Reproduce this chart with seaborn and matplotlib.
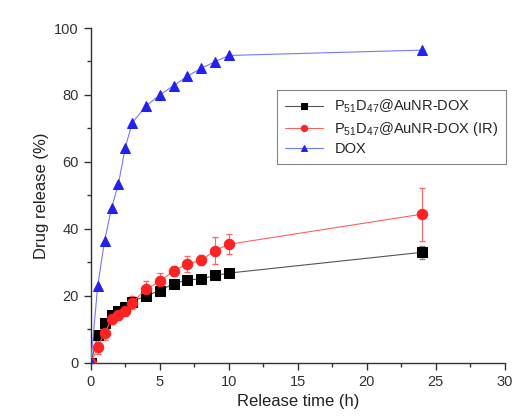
import numpy as np
import pandas as pd
import seaborn as sns
import matplotlib.pyplot as plt
from matplotlib.ticker import MultipleLocator

# release time points (h)
time_dox = [0, 0.5, 1, 1.5, 2, 2.5, 3, 4, 5, 6, 7, 8, 9, 10, 24]
dox = [0, 23, 36.5, 46.2, 53.4, 64.3, 71.7, 76.7, 80, 82.8, 85.6, 88, 89.9, 91.8, 93.4]

time_np = [0, 0.5, 1, 1.5, 2, 2.5, 3, 4, 5, 6, 7, 8, 9, 10, 24]
np_dox = [0, 8.2, 11.8, 14.3, 15.6, 16.6, 18.3, 20, 21.6, 23.6, 24.8, 25, 26.1, 26.8, 33.0]
np_dox_err = [0, 0.8, 0.8, 0.8, 0.8, 0.8, 0.8, 1.0, 0.8, 0.8, 0.8, 0.8, 0.8, 0.8, 2.0]
np_ir = [0, 4.7, 8.9, 13, 14.3, 15.6, 18, 22, 24.3, 27.5, 29.5, 30.7, 33.5, 35.4, 44.4]
np_ir_err = [0, 2, 2, 1.5, 1.5, 1.5, 2, 2.5, 2.5, 1.5, 2.5, 1.5, 4, 3, 7.9]

labels = [r'P$_{51}$D$_{47}$@AuNR-DOX', r'P$_{51}$D$_{47}$@AuNR-DOX (IR)', 'DOX']

sns.set_style("ticks")
plt.rcParams['font.family'] = ['Liberation Sans', 'DejaVu Sans']
plt.rcParams['mathtext.fontset'] = 'custom'
plt.rcParams['mathtext.rm'] = 'Liberation Sans'
plt.rcParams['mathtext.it'] = 'Liberation Sans'

fig = plt.figure(figsize=(5.13, 4.18), dpi=100)
ax = fig.add_axes([0.177, 0.132, 0.807, 0.801])

black = '#000000'
red = '#ff2222'
blue = '#2222ee'

ax.errorbar(time_np, np_dox, yerr=np_dox_err, fmt='none', ecolor='#888888',
            elinewidth=0.8, capsize=2, zorder=2)
ax.errorbar(time_np, np_ir, yerr=np_ir_err, fmt='none', ecolor='#ff6666',
            elinewidth=0.8, capsize=2, zorder=2)

sns.lineplot(x=time_np, y=np_dox, ax=ax, color='#555555', lw=0.8, marker='s',
             markersize=6.5, markerfacecolor=black, markeredgecolor=black,
             label=labels[0], zorder=3)
sns.lineplot(x=time_np, y=np_ir, ax=ax, color='#ff6060', lw=0.8, marker='o',
             markersize=7.5, markerfacecolor=red, markeredgecolor=red,
             label=labels[1], zorder=3)
sns.lineplot(x=time_dox, y=dox, ax=ax, color='#7777ff', lw=0.8, marker='^',
             markersize=7.5, markerfacecolor=blue, markeredgecolor=blue,
             label=labels[2], zorder=3)

ax.set_xlim(0, 30)
ax.set_ylim(0, 100)
ax.xaxis.set_major_locator(MultipleLocator(5))
ax.xaxis.set_minor_locator(MultipleLocator(2.5))
ax.yaxis.set_major_locator(MultipleLocator(20))
ax.yaxis.set_minor_locator(MultipleLocator(10))
ax.tick_params(which='major', direction='out', length=5, width=1, labelsize=10.5, colors='#333333')
ax.tick_params(which='minor', direction='out', length=3, width=1, colors='#333333')
for s in ['top', 'right']:
    ax.spines[s].set_visible(False)
for s in ['left', 'bottom']:
    ax.spines[s].set_color('#333333')
    ax.spines[s].set_linewidth(1)

ax.set_xlabel('Release time (h)', fontsize=12, color='#222222')
ax.set_ylabel('Drug release (%)', fontsize=12, color='#222222')

leg = ax.legend(loc='upper left', bbox_to_anchor=(0.449, 0.815), borderaxespad=0,
                fontsize=10.5, frameon=True, fancybox=False, edgecolor='#666666',
                handlelength=2.6, borderpad=0.55, labelspacing=0.3, markerscale=0.6)
leg.get_frame().set_linewidth(0.8)

fig.savefig('out.png', dpi=100)
